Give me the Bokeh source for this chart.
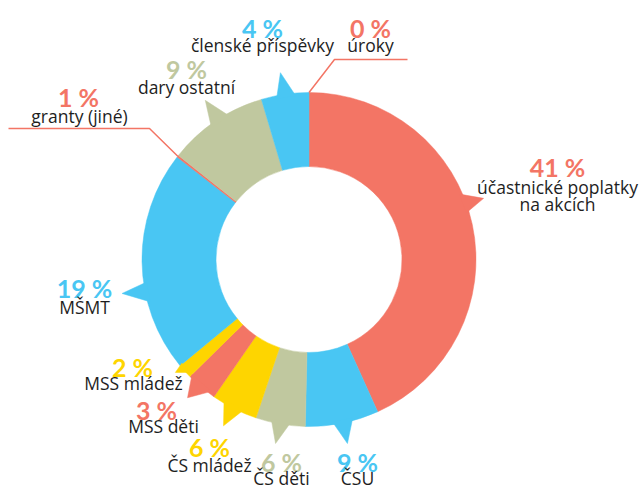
import math
from bokeh.plotting import figure
from bokeh.models import Range1d, ColumnDataSource
from bokeh.embed import file_html
from bokeh.resources import INLINE
from bokeh.core.properties import value

# ---------------- data ----------------
categories = ["účastnické poplatky\nna akcích", "ČSU", "ČS děti", "ČS mládež",
              "MSS děti", "MSS mládež", "MŠMT", "granty (jiné)",
              "dary ostatní", "členské příspěvky", "úroky"]
pct_labels = ["41 %", "9 %", "6 %", "6 %", "3 %", "2 %", "19 %", "1 %", "9 %", "4 %", "0 %"]
# angular share of each ring segment as drawn in the picture (percent of the circle)
shares = [43.3, 7.1, 4.8, 4.5, 3.0, 1.4, 21.5, 0.2, 9.7, 4.6, 0.0]

SALMON = "#F37565"
BLUE = "#49C6F3"
SAGE = "#C0C89F"
YELLOW = "#FED500"
colors = [SALMON, BLUE, SAGE, YELLOW, SALMON, YELLOW, BLUE, SALMON, SAGE, BLUE, SALMON]

# ---------------- layout (image pixel coordinates, y downwards) ----------------
W, H = 642, 488
CX, CY = 308.5, 259.0
R_OUT, R_IN = 167.0, 93.0
TEXT_SHIFT = 6  # compensation for the text baseline placement

# pointer: (tip angle, base angle a, base angle b, tip radius) in degrees clockwise from top
pointers = [(70.7, 66.5, 73.5, 185), (168.2, 164.5, 171.8, 188), (190.3, 186.4, 193.3, 187),
            (207.2, 203.5, 211.2, 187), (221.3, 216.5, 225.5, 184), (229.8, 226.5, 230.8, 175),
            (259.7, 255.0, 262.1, 190), None, (326.9, 323.5, 331.0, 190),
            (351.3, 348.6, 355.4, 189), None]

# percent label: center x, baseline y ; category label: center x, first baseline y
pct_pos = [(557, 172), (357, 467), (281, 467), (209, 452), (156, 415), (132, 372),
           (84, 293), (78, 102), (186, 74), (262, 33), (370, 33)]
cat_pos = [(557, 192), (357, 483), (281, 483), (209, 470), (163, 431), (133, 388),
           (84, 312), (79, 121), (186, 92), (262, 50), (370, 50)]
LINE_GAP = 17

# leader lines: index -> (outer x, elbow x, y)
leaders = {7: (8, 149, 128), 10: (407, 334, 59)}


def fy(y_img):
    return H - y_img


def pt(theta_deg, r):
    t = math.radians(theta_deg)
    return CX + r * math.sin(t), fy(CY - r * math.cos(t))


p = figure(width=W, height=H, output_backend="svg", toolbar_location=None,
           x_range=Range1d(0, W), y_range=Range1d(0, H),
           x_axis_type=None, y_axis_type=None, min_border=0)
p.grid.visible = False
p.outline_line_color = None
p.background_fill_color = "white"
p.border_fill_color = "white"

total = sum(shares)
cum = 0.0
bounds = []
for s in shares:
    a0 = cum / total * 360.0
    cum += s
    a1 = cum / total * 360.0
    bounds.append((a0, a1))

ws = dict(x=[], y=[], start=[], end=[], color=[])
for (a0, a1), c in zip(bounds, colors):
    if a1 - a0 <= 0:
        continue
    ws["x"].append(CX)
    ws["y"].append(fy(CY))
    ws["start"].append(math.radians(90 - a1))
    ws["end"].append(math.radians(90 - a0))
    ws["color"].append(c)
p.annular_wedge(x="x", y="y", inner_radius=R_IN, outer_radius=R_OUT,
                start_angle="start", end_angle="end", fill_color="color",
                line_color="color", line_width=0.5, source=ColumnDataSource(ws))

# pointers
px, py, pc = [], [], []
for ptr, c in zip(pointers, colors):
    if ptr is None:
        continue
    tip, ba, bb, rt = ptr
    p1 = pt(ba, R_OUT - 3)
    p2 = pt(tip, rt)
    p3 = pt(bb, R_OUT - 3)
    px.append([p1[0], p2[0], p3[0]])
    py.append([p1[1], p2[1], p3[1]])
    pc.append(c)
p.patches(xs=px, ys=py, fill_color=pc, line_color=pc, line_width=0.5)

# leader lines
for idx, (xo, xe, yl) in leaders.items():
    a0, a1 = bounds[idx]
    ex, ey = pt((a0 + a1) / 2, R_OUT)
    p.line([xo, xe, ex], [fy(yl), fy(yl), ey], line_color=colors[idx], line_width=1.5)

# labels
p.text(x=[q[0] for q in pct_pos], y=[fy(q[1] - TEXT_SHIFT) for q in pct_pos], text=pct_labels,
       text_color=colors, text_font=value("Lato"), text_font_style="bold",
       text_font_size="25px", text_align="center", text_baseline="alphabetic")

cx_, cy_, ct = [], [], []
for (x0, y0), cat in zip(cat_pos, categories):
    for k, line in enumerate(cat.split("\n")):
        cx_.append(x0)
        cy_.append(fy(y0 + k * LINE_GAP - TEXT_SHIFT))
        ct.append(line)
p.text(x=cx_, y=cy_, text=ct, text_color="#1e1e1e", text_font=value("Open Sans"),
       text_font_size="17.5px", text_align="center", text_baseline="alphabetic")

open("out.html", "w").write(file_html(p, INLINE))
